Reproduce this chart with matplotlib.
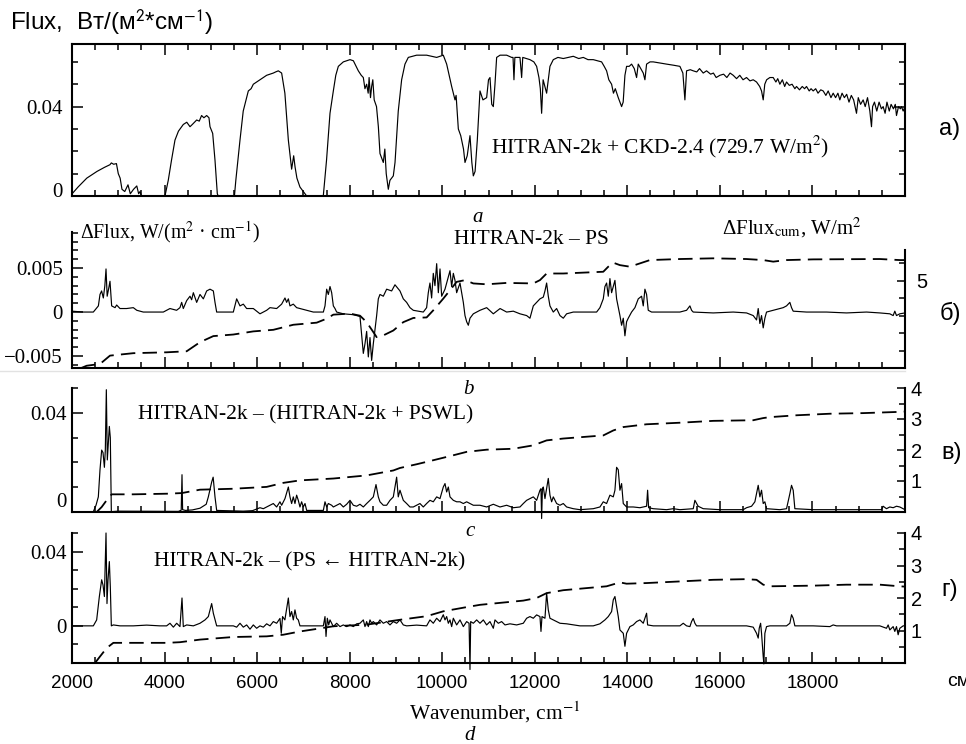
import matplotlib
matplotlib.use('Agg')
import matplotlib.pyplot as plt
import matplotlib.transforms as mtrans
from matplotlib.ticker import FixedLocator, MultipleLocator
from matplotlib.lines import Line2D

# ---------------- data ----------------
x_ticks = [2000, 4000, 6000, 8000, 10000, 12000, 14000, 16000, 18000]
x_tick_labels = ['2000', '4000', '6000', '8000', '10000', '12000', '14000', '16000', '18000']

# panel a: flux spectrum (wavenumber, flux)
flux_a = [
    (2000, 0.0008), (2015, 0.0013), (2130, 0.004), (2320, 0.008), (2540, 0.011), (2700, 0.0128),
    (2820, 0.014), (2850, 0.0148), (2900, 0.0142), (2960, 0.0145), (3000, 0.010), (3040, 0.008),
    (3080, 0.003), (3140, 0.002), (3210, 0.005), (3260, 0.001), (3330, 0.003), (3400, 0.0045),
    (3440, 0.001), (3470, 0.002), (3500, 0.0), (4009, 0.0), (4080, 0.007), (4150, 0.016),
    (4225, 0.025), (4300, 0.029), (4405, 0.032), (4480, 0.033), (4550, 0.031), (4600, 0.032),
    (4694, 0.034), (4750, 0.0335), (4800, 0.036), (4850, 0.035), (4910, 0.036), (4960, 0.035),
    (4982, 0.031), (5040, 0.028), (5090, 0.016), (5140, 0.001), (5160, 0.0), (5510, 0.0),
    (5540, 0.007), (5630, 0.025), (5700, 0.038), (5810, 0.047), (5870, 0.048), (5918, 0.050),
    (5990, 0.051), (6060, 0.052), (6130, 0.053), (6206, 0.054), (6280, 0.0545), (6350, 0.055),
    (6400, 0.0555), (6458, 0.056), (6530, 0.055), (6600, 0.046), (6675, 0.025), (6746, 0.012),
    (6790, 0.018), (6820, 0.013), (6860, 0.008), (6926, 0.004), (7000, 0.002), (7071, 0.0),
    (7430, 0.0), (7500, 0.016), (7575, 0.037), (7647, 0.047), (7700, 0.054), (7755, 0.058),
    (7863, 0.060), (8007, 0.061), (8080, 0.0605), (8187, 0.056), (8250, 0.054), (8295, 0.053),
    (8330, 0.048), (8367, 0.050), (8400, 0.046), (8420, 0.053), (8450, 0.044), (8475, 0.049),
    (8500, 0.052), (8530, 0.043), (8580, 0.040), (8620, 0.031), (8655, 0.019), (8690, 0.017),
    (8727, 0.015), (8760, 0.021), (8790, 0.010), (8835, 0.003), (8870, 0.007), (8943, 0.009),
    (8980, 0.015), (9050, 0.038), (9123, 0.052), (9195, 0.059), (9267, 0.062), (9447, 0.063),
    (9663, 0.063), (9880, 0.062), (10023, 0.063), (10096, 0.059), (10204, 0.049), (10276, 0.043),
    (10300, 0.045), (10348, 0.030), (10400, 0.027), (10420, 0.025), (10460, 0.021), (10492, 0.015),
    (10540, 0.018), (10600, 0.027), (10640, 0.015), (10672, 0.009), (10710, 0.011), (10758, 0.025),
    (10816, 0.047), (10880, 0.043), (10960, 0.044), (11000, 0.052), (11032, 0.053), (11070, 0.041),
    (11104, 0.040), (11140, 0.050), (11176, 0.062), (11250, 0.063), (11392, 0.063), (11500, 0.062),
    (11530, 0.062), (11550, 0.052), (11570, 0.062), (11680, 0.062), (11716, 0.053), (11740, 0.062),
    (11896, 0.061), (11980, 0.060), (12040, 0.058), (12090, 0.053), (12120, 0.048), (12148, 0.037),
    (12180, 0.052), (12256, 0.046), (12328, 0.058), (12400, 0.061), (12500, 0.062), (12616, 0.0615),
    (12720, 0.062), (12832, 0.0625), (12950, 0.0615), (13048, 0.062), (13150, 0.061), (13264, 0.061),
    (13350, 0.0605), (13444, 0.060), (13500, 0.058), (13552, 0.056), (13600, 0.052), (13660, 0.050),
    (13700, 0.046), (13740, 0.048), (13804, 0.044), (13876, 0.040), (13910, 0.042), (13948, 0.054),
    (13984, 0.058), (14040, 0.058), (14092, 0.059), (14150, 0.057), (14200, 0.053), (14236, 0.059),
    (14290, 0.057), (14344, 0.055), (14380, 0.052), (14416, 0.059), (14490, 0.060), (14560, 0.060),
    (14700, 0.0595), (14848, 0.059), (15000, 0.0585), (15136, 0.058), (15200, 0.055), (15244, 0.043),
    (15280, 0.056), (15360, 0.0565), (15424, 0.056), (15500, 0.0555), (15560, 0.057), (15640, 0.055),
    (15712, 0.056), (15800, 0.0545), (15860, 0.055), (15920, 0.053), (16000, 0.054), (16080, 0.0545),
    (16150, 0.053), (16220, 0.055), (16288, 0.054), (16360, 0.0525), (16430, 0.054), (16500, 0.052),
    (16576, 0.053), (16650, 0.0515), (16720, 0.052), (16792, 0.051), (16860, 0.049), (16900, 0.047),
    (16936, 0.043), (16970, 0.050), (17010, 0.052), (17080, 0.053), (17152, 0.053), (17210, 0.051),
    (17250, 0.0525), (17296, 0.050), (17350, 0.052), (17400, 0.049), (17440, 0.051), (17500, 0.0495),
    (17560, 0.050), (17620, 0.048), (17656, 0.049), (17720, 0.0475), (17780, 0.049), (17830, 0.048),
    (17872, 0.049), (17930, 0.047), (17970, 0.048), (18016, 0.047), (18070, 0.048), (18120, 0.046),
    (18180, 0.0475), (18232, 0.047), (18290, 0.045), (18340, 0.047), (18400, 0.044), (18448, 0.046),
    (18500, 0.044), (18550, 0.046), (18592, 0.043), (18640, 0.046), (18690, 0.044), (18740, 0.0455),
    (18790, 0.042), (18840, 0.045), (18890, 0.043), (18952, 0.037), (18990, 0.044), (19040, 0.041),
    (19096, 0.043), (19140, 0.040), (19190, 0.044), (19240, 0.038), (19276, 0.031), (19300, 0.040),
    (19340, 0.042), (19390, 0.038), (19440, 0.042), (19490, 0.039), (19528, 0.040), (19570, 0.037),
    (19610, 0.042), (19660, 0.038), (19700, 0.041), (19750, 0.039), (19790, 0.041), (19816, 0.036),
    (19860, 0.040), (19900, 0.039), (19924, 0.040), (19960, 0.038), (20000, 0.040),
]

# panel b: HITRAN-2k - PS difference (wavenumber, dFlux)
dflux_b = [
    (2000, 0.0001), (2245, 0.0), (2461, 0.0), (2570, 0.0007), (2605, 0.002), (2640, 0.0024),
    (2677, 0.0016), (2710, 0.003), (2735, 0.0049), (2760, 0.0018), (2790, 0.0026), (2821, 0.0035),
    (2857, 0.0007), (2930, 0.0005), (2965, 0.0008), (3037, 0.0004), (3180, 0.0004), (3325, 0.0005),
    (3400, 0.0002), (3541, 0.0), (3973, 0.0), (4117, 0.0004), (4260, 0.0002), (4333, 0.0005),
    (4370, 0.0011), (4405, 0.0004), (4478, 0.0013), (4550, 0.0018), (4585, 0.0014), (4622, 0.0022),
    (4694, 0.0011), (4766, 0.002), (4838, 0.0015), (4910, 0.0024), (4982, 0.0026), (5054, 0.0024),
    (5090, 0.0011), (5126, 0.0), (5486, 0.0), (5558, 0.0015), (5630, 0.0007), (5702, 0.0009),
    (5774, 0.0004), (5918, 0.0004), (6062, -0.0002), (6206, 0.0002), (6278, 0.0005), (6422, 0.0004),
    (6530, 0.0009), (6602, 0.0016), (6638, 0.0011), (6675, 0.0015), (6710, 0.0007), (6782, 0.0009),
    (6854, 0.0005), (6926, 0.0004), (7071, 0.0002), (7215, 0.0), (7431, 0.0), (7467, 0.0007),
    (7503, 0.0026), (7539, 0.002), (7575, 0.0029), (7611, 0.0022), (7647, 0.0007), (7683, 0.0004),
    (7719, 0.0), (7863, -0.0002), (8079, -0.0003), (8223, -0.0005), (8259, -0.0026), (8295, -0.0047),
    (8331, -0.0036), (8367, -0.0022), (8403, -0.0051), (8439, -0.0029), (8475, -0.0055), (8511, -0.0036),
    (8547, -0.002), (8583, -0.0004), (8619, 0.0015), (8655, 0.002), (8727, 0.0018), (8799, 0.0026),
    (8907, 0.0024), (8979, 0.0031), (9087, 0.0024), (9159, 0.0015), (9231, 0.0011), (9303, 0.0005),
    (9375, 0.0002), (9591, 0.0), (9663, 0.0005), (9699, 0.0022), (9735, 0.0033), (9771, 0.0016),
    (9807, 0.0044), (9843, 0.003), (9880, 0.0055), (9916, 0.0022), (9952, 0.0049), (9988, 0.0018),
    (10060, 0.0026), (10132, 0.004), (10168, 0.0047), (10204, 0.0029), (10240, 0.0044), (10276, 0.0036),
    (10312, 0.0022), (10384, 0.0033), (10456, 0.0011), (10492, -0.0004), (10528, -0.0011), (10564, -0.0015),
    (10600, -0.0007), (10672, -0.0002), (10816, 0.0002), (10960, 0.0005), (11104, -0.0002), (11250, 0.0004),
    (11392, 0.0), (11536, 0.0001), (11680, -0.0002), (11824, -0.0004), (11896, -0.0007), (11968, 0.0007),
    (12040, 0.0011), (12112, 0.0015), (12184, 0.0017), (12220, 0.0024), (12256, 0.0033), (12292, 0.0018),
    (12328, 0.0007), (12400, 0.0), (12472, 0.0004), (12544, -0.0004), (12616, -0.0007), (12688, -0.0002),
    (12832, 0.0), (13120, 0.0), (13336, 0.0), (13408, 0.0005), (13480, 0.0015), (13516, 0.0029),
    (13552, 0.0033), (13588, 0.0018), (13624, 0.0038), (13660, 0.0022), (13696, 0.0029), (13732, 0.0036),
    (13768, 0.0015), (13840, -0.0004), (13876, -0.0015), (13912, -0.0007), (13948, -0.0027), (13984, -0.0011),
    (14020, -0.0007), (14092, 0.0), (14164, 0.0005), (14236, 0.0015), (14308, 0.0018), (14344, 0.0007),
    (14380, 0.0026), (14416, 0.002), (14452, 0.0002), (14524, 0.0), (14848, 0.0), (15136, 0.0),
    (15280, 0.0002), (15352, 0.0007), (15388, 0.0002), (15424, 0.0), (15856, -0.0001), (16288, 0.0),
    (16576, -0.0001), (16720, -0.0004), (16792, -0.0009), (16828, 0.0004), (16864, -0.0013), (16900, -0.0004),
    (16936, -0.0018), (16972, -0.0007), (17008, 0.0), (17152, 0.0002), (17296, 0.0004), (17368, 0.0005),
    (17440, 0.0007), (17512, 0.0011), (17548, 0.0005), (17584, 0.0001), (17872, 0.0), (18304, 0.0),
    (18736, -0.0001), (19168, 0.0), (19456, -0.0001), (19672, -0.0002), (19744, -0.0004), (19780, 0.0001),
    (19816, -0.0004), (19888, -0.0002), (20000, -0.0001),
]
cum_b = [
    (2200, 0.0), (2317, 0.13), (2605, 0.23), (2821, 0.71), (3325, 0.85), (4045, 0.9), (4478, 0.96),
    (4766, 1.48), (5054, 1.83), (5486, 1.92), (5918, 2.1), (6350, 2.19), (6782, 2.48), (7287, 2.6),
    (7503, 2.83), (7647, 3.06), (8007, 3.12), (8223, 3.0), (8367, 2.63), (8511, 2.06), (8583, 1.77),
    (8727, 1.87), (8943, 2.15), (9159, 2.63), (9375, 2.87), (9663, 2.9), (9807, 3.31), (10023, 3.98),
    (10168, 4.46), (10312, 4.94), (10492, 5.04), (10672, 4.85), (10960, 4.8), (11392, 4.88),
    (11968, 4.85), (12112, 5.04), (12256, 5.42), (12616, 5.42), (13480, 5.52), (13588, 5.81),
    (13696, 6.04), (13840, 5.9), (14056, 5.81), (14272, 6.0), (14488, 6.19), (15136, 6.25),
    (15856, 6.29), (16576, 6.25), (16936, 6.19), (17152, 6.1), (17440, 6.19), (18016, 6.23),
    (19456, 6.25), (19888, 6.19), (20000, 6.19),
]

# panel c: HITRAN-2k - (HITRAN-2k + PSWL)
dflux_c = [
    (2000, 0.0), (2461, 0.0), (2519, 0.0026), (2569, 0.006), (2605, 0.017), (2641, 0.025),
    (2670, 0.024), (2700, 0.018), (2720, 0.025), (2742, 0.0495), (2763, 0.021), (2785, 0.028),
    (2807, 0.0346), (2828, 0.030), (2850, 0.0), (3000, 0.0002), (4300, 0.0001), (4360, 0.0006),
    (4377, 0.015), (4390, 0.0008), (4450, 0.0005), (4600, 0.0007), (4766, 0.0014), (4900, 0.003),
    (4946, 0.006), (5018, 0.012), (5050, 0.014), (5090, 0.006), (5126, 0.0005), (5700, 0.0002),
    (5900, 0.0004), (6062, 0.0016), (6134, 0.0012), (6206, 0.0019), (6278, 0.0026), (6350, 0.0033),
    (6422, 0.0019), (6494, 0.004), (6530, 0.0026), (6602, 0.0053), (6675, 0.010), (6710, 0.006),
    (6746, 0.0033), (6782, 0.006), (6818, 0.0033), (6854, 0.0067), (6890, 0.0046), (6926, 0.0019),
    (6962, 0.004), (6998, 0.0019), (7035, 0.0033), (7071, 0.0005), (7431, 0.0005), (7467, 0.004),
    (7503, 0.0019), (7539, 0.0033), (7611, 0.0026), (7647, 0.0019), (7719, 0.0026), (7791, 0.0033),
    (7863, 0.0019), (7935, 0.003), (8007, 0.0046), (8079, 0.0026), (8151, 0.0022), (8223, 0.003),
    (8295, 0.0019), (8367, 0.0033), (8439, 0.0046), (8511, 0.006), (8569, 0.011), (8619, 0.006),
    (8655, 0.004), (8727, 0.0026), (8799, 0.0026), (8871, 0.0046), (8943, 0.006), (9015, 0.014),
    (9050, 0.006), (9087, 0.0087), (9159, 0.0046), (9231, 0.0033), (9303, 0.0019), (9375, 0.0019),
    (9447, 0.0026), (9519, 0.0033), (9591, 0.0019), (9663, 0.0033), (9735, 0.0046), (9807, 0.004),
    (9880, 0.006), (9952, 0.0053), (10023, 0.010), (10060, 0.0114), (10096, 0.008), (10132, 0.010),
    (10168, 0.006), (10240, 0.0046), (10312, 0.004), (10384, 0.004), (10456, 0.0033), (10528, 0.004),
    (10672, 0.0026), (10816, 0.0026), (10960, 0.0019), (11104, 0.003), (11248, 0.0019), (11392, 0.0026),
    (11536, 0.0016), (11680, 0.0019), (11752, 0.0033), (11824, 0.0046), (11896, 0.0053), (11968, 0.006),
    (12040, 0.0046), (12112, 0.0087), (12134, 0.0093), (12148, -0.0028), (12165, 0.0093), (12184, 0.010),
    (12220, 0.0053), (12292, 0.0135), (12328, 0.0067), (12364, 0.004), (12400, 0.006), (12472, 0.0033),
    (12544, 0.0026), (12616, 0.0033), (12688, 0.0019), (12832, 0.0012), (12976, 0.0008), (13264, 0.0012),
    (13408, 0.0019), (13480, 0.004), (13552, 0.0033), (13624, 0.0067), (13696, 0.006), (13732, 0.0087),
    (13768, 0.018), (13804, 0.017), (13840, 0.0087), (13876, 0.0114), (13912, 0.0033), (13984, 0.0019),
    (14128, 0.0019), (14272, 0.0016), (14416, 0.0022), (14438, 0.0087), (14460, 0.0016), (14560, 0.0012),
    (14848, 0.0008), (14992, 0.0012), (15136, 0.0008), (15424, 0.0012), (15460, 0.0046), (15530, 0.0022),
    (15640, 0.0012), (16000, 0.0008), (16504, 0.0008), (16576, 0.0016), (16684, 0.0022), (16756, 0.004),
    (16828, 0.0107), (16864, 0.006), (16900, 0.0087), (16936, 0.0033), (16972, 0.004), (17008, 0.0012),
    (17296, 0.0008), (17440, 0.0012), (17512, 0.0073), (17548, 0.0107), (17584, 0.0087), (17620, 0.0012),
    (18016, 0.0008), (19492, 0.0008), (19528, 0.0022), (19600, 0.0012), (19672, 0.0019), (19744, 0.0016),
    (19816, 0.0022), (19888, 0.0019), (20000, 0.0008),
]
cum_c = [
    (2533, 0.0), (2641, 0.16), (2749, 0.38), (2857, 0.57), (3325, 0.57), (4045, 0.59), (4370, 0.61),
    (4766, 0.72), (5486, 0.75), (6206, 0.81), (6566, 0.94), (6926, 1.02), (7647, 1.08), (8367, 1.18),
    (8943, 1.34), (9087, 1.42), (9447, 1.54), (9807, 1.67), (10240, 1.83), (10528, 1.94), (10960, 2.01),
    (11536, 2.04), (11968, 2.15), (12256, 2.31), (12616, 2.37), (13480, 2.47), (13696, 2.63),
    (13912, 2.74), (14416, 2.83), (15136, 2.88), (15856, 2.94), (16720, 2.96), (16936, 3.03),
    (17080, 3.06), (17656, 3.12), (18376, 3.17), (19096, 3.19), (19888, 3.23), (20000, 3.24),
]

# panel d: HITRAN-2k - (PS <- HITRAN-2k)
dflux_d = [
    (2000, 0.0), (2461, 0.0), (2533, 0.0032), (2591, 0.0158), (2641, 0.0248), (2670, 0.022),
    (2700, 0.0158), (2735, 0.050), (2756, 0.012), (2778, 0.0248), (2807, 0.0346), (2828, 0.021),
    (2850, 0.0), (2893, 0.0005), (3037, 0.0), (3325, 0.0), (3613, 0.0004), (3901, 0.0), (4045, 0.0),
    (4117, 0.0014), (4190, -0.0007), (4262, 0.0014), (4333, -0.0004), (4377, 0.015), (4405, -0.0004),
    (4478, 0.0005), (4622, 0.0), (4766, 0.0014), (4874, 0.0032), (4946, 0.005), (5018, 0.012),
    (5054, 0.0068), (5126, 0.0), (5486, 0.0), (5558, -0.0007), (5630, 0.0014), (5702, -0.0007),
    (5774, 0.0005), (5846, -0.0018), (5918, 0.0005), (5990, -0.0013), (6062, 0.0), (6134, -0.0007),
    (6206, 0.0011), (6278, 0.0), (6350, 0.0023), (6422, 0.0014), (6494, 0.004), (6510, -0.0004),
    (6522, -0.004), (6550, 0.005), (6600, 0.0032), (6675, 0.015), (6710, 0.005), (6746, 0.0077),
    (6782, 0.0032), (6818, 0.0086), (6854, 0.0041), (6890, 0.0032), (6926, 0.0), (7431, 0.0),
    (7467, 0.005), (7489, -0.0057), (7517, 0.0041), (7547, 0.0005), (7575, 0.0032), (7647, -0.0004),
    (7719, 0.0014), (7791, -0.0004), (7863, 0.0005), (7935, -0.0004), (8007, 0.0005), (8079, -0.0004),
    (8151, 0.0011), (8223, 0.0014), (8295, 0.0032), (8331, -0.0004), (8367, 0.0023), (8403, -0.0004),
    (8439, 0.0032), (8475, 0.0014), (8511, 0.0023), (8583, 0.0005), (8655, 0.0032), (8727, 0.0014),
    (8799, 0.0023), (8871, 0.0005), (8943, 0.0023), (9015, 0.0014), (9087, 0.0032), (9159, 0.0005),
    (9231, 0.0), (9447, 0.0004), (9663, 0.0), (9735, 0.0032), (9807, 0.0014), (9880, 0.0041),
    (9952, 0.0023), (10023, 0.006), (10060, 0.0032), (10096, 0.005), (10132, 0.0014), (10168, 0.0032),
    (10204, -0.0004), (10240, 0.0041), (10312, 0.0005), (10384, 0.0032), (10456, -0.0004), (10528, 0.0023),
    (10580, 0.0014), (10600, -0.0235), (10615, 0.0023), (10672, 0.0014), (10744, 0.0032), (10816, 0.0014),
    (10888, 0.0032), (10960, 0.0005), (11032, 0.0023), (11104, -0.0013), (11140, 0.0032), (11212, 0.0014),
    (11284, 0.0023), (11356, 0.0005), (11464, 0.0011), (11608, 0.0005), (11752, 0.0014), (11824, 0.0041),
    (11896, 0.005), (11968, 0.0041), (12040, 0.0059), (12112, 0.005), (12134, -0.003), (12156, 0.005),
    (12220, 0.0041), (12256, 0.0176), (12292, 0.0086), (12328, 0.0041), (12400, 0.0032), (12544, 0.0014),
    (12688, 0.0011), (12976, 0.0), (13264, 0.0), (13408, 0.0011), (13516, 0.0032), (13588, 0.005),
    (13660, 0.0077), (13696, 0.014), (13732, 0.0158), (13768, 0.0104), (13804, 0.005), (13840, -0.0022),
    (13912, -0.004), (13948, -0.011), (13984, -0.004), (14056, -0.0004), (14128, 0.0005), (14200, 0.0023),
    (14272, 0.0032), (14344, 0.0014), (14416, 0.0068), (14438, 0.0005), (14560, 0.0), (15136, 0.0),
    (15208, 0.0014), (15280, 0.0), (15352, -0.0004), (15388, 0.0023), (15424, 0.004), (15460, 0.0014),
    (15496, 0.0), (16576, 0.0), (16720, -0.0007), (16792, -0.004), (16828, -0.0066), (16850, -0.0013),
    (16880, 0.0014), (16900, -0.004), (16936, -0.0165), (16950, -0.0205), (16972, -0.004), (17008, -0.0004),
    (17080, 0.0), (17440, 0.0), (17512, 0.0014), (17548, 0.006), (17584, 0.0041), (17620, 0.0),
    (18016, 0.0), (18376, -0.0004), (18448, 0.0005), (18520, 0.0), (19456, 0.0), (19600, -0.0013),
    (19636, 0.0005), (19672, -0.0022), (19744, -0.0004), (19780, -0.003), (19816, -0.0004), (19852, -0.0048),
    (19888, -0.0013), (19960, 0.0), (20000, 0.0),
]
cum_d = [
    (2497, 0.0), (2605, 0.2), (2749, 0.46), (2893, 0.62), (3325, 0.62), (4045, 0.62), (4333, 0.64),
    (4766, 0.72), (5486, 0.8), (6206, 0.82), (6566, 0.87), (6926, 0.97), (7431, 1.08), (7647, 1.13),
    (8367, 1.18), (9087, 1.33), (9663, 1.44), (10023, 1.59), (10528, 1.72), (10816, 1.79), (11248, 1.85),
    (11752, 1.92), (12040, 2.0), (12256, 2.15), (12616, 2.24), (13552, 2.36), (13840, 2.48),
    (13984, 2.44), (14416, 2.46), (15136, 2.51), (15856, 2.56), (16576, 2.58), (16792, 2.56),
    (16936, 2.41), (17080, 2.36), (18016, 2.38), (18736, 2.41), (19456, 2.41), (19888, 2.36), (20000, 2.35),
]


def unzip(pts):
    return [p[0] for p in pts], [p[1] for p in pts]


# ---------------- style ----------------
plt.rcParams['font.family'] = ['Liberation Serif', 'DejaVu Serif']
plt.rcParams['mathtext.fontset'] = 'stix'
SANS = ['Liberation Sans', 'DejaVu Sans']

W, H = 966, 744
fig = plt.figure(figsize=(W / 100, H / 100), dpi=100)
fig.patch.set_facecolor('white')


def rect(x0, y0, x1, y1):
    return [x0 / W, 1 - y1 / H, (x1 - x0) / W, (y1 - y0) / H]


def ftext(x, y, s, **kw):
    kw.setdefault('ha', 'center')
    kw.setdefault('va', 'center')
    fig.text(x / W, 1 - y / H, s, **kw)


SPW = 1.5
LW = 0.85
DASH = (0, (8, 4))
DLW = 1.3
MAJ, MIN = 8, 4.5


def style_x(ax, labels=False, top=False):
    ax.set_xlim(2000, 20000)
    ax.set_xticks(x_ticks)
    if labels:
        ax.set_xticklabels(x_tick_labels, fontfamily=SANS, fontsize=13.5)
    ax.xaxis.set_minor_locator(MultipleLocator(500))
    ax.tick_params(axis='x', which='both', direction='in', top=top, bottom=True,
                   labelbottom=labels, width=1.1, pad=9)
    ax.tick_params(axis='x', which='major', length=MAJ)
    ax.tick_params(axis='x', which='minor', length=MIN)
    for s in ax.spines.values():
        s.set_linewidth(SPW)


def style_left(ax, major, labels, minor, pad):
    ax.set_yticks(major)
    ax.set_yticklabels(labels, fontsize=15)
    ax.yaxis.set_minor_locator(FixedLocator(minor))
    ax.tick_params(axis='y', which='both', direction='in', width=1.1, pad=pad)
    ax.tick_params(axis='y', which='major', length=MAJ)
    ax.tick_params(axis='y', which='minor', length=MIN)


def make_twin(ax, ylim, major, labels, minor, pad):
    tw = ax.twinx()
    tw.set_ylim(*ylim)
    tw.set_yticks(major)
    tw.set_yticklabels(labels, fontfamily=SANS, fontsize=14.5)
    tw.yaxis.set_minor_locator(FixedLocator(minor))
    tw.tick_params(axis='y', which='both', direction='in', width=1.1, pad=pad)
    tw.tick_params(axis='y', which='major', length=MIN + 1)
    tw.tick_params(axis='y', which='minor', length=MIN)
    tw.tick_params(axis='x', which='both', bottom=False, top=False, labelbottom=False)
    for k in ('top', 'left', 'bottom'):
        tw.spines[k].set_visible(False)
    tw.spines['right'].set_linewidth(SPW)
    return tw


def shift_label(ax, idx, dy_px):
    lbl = ax.get_yticklabels()[idx]
    lbl.set_transform(lbl.get_transform() +
                      mtrans.ScaledTranslation(0, dy_px / 100, fig.dpi_scale_trans))


# ---------------- panel a ----------------
ax_a = fig.add_axes(rect(72, 44, 905, 196))
x, y = unzip(flux_a)
ax_a.plot(x, y, color='black', lw=LW)
ax_a.set_ylim(0, 0.068)
style_x(ax_a, labels=False, top=True)
style_left(ax_a, [0, 0.04], ['0', '0.04'], [0.01, 0.02, 0.03, 0.05, 0.06], 6.5)
ax_a.tick_params(axis='y', which='both', right=True, labelright=False)
shift_label(ax_a, 0, 6)

# ---------------- panel b ----------------
ax_b = fig.add_axes(rect(72, 232, 905, 368))
x, y = unzip(dflux_b)
ax_b.plot(x, y, color='black', lw=LW)
ax_b.set_ylim(-0.00636, 0.0091)
style_x(ax_b)
style_left(ax_b, [-0.005, 0, 0.005], ['\u22120.005', '0', '0.005'],
           [-0.006, -0.004, -0.003, -0.002, -0.001, 0.001, 0.002, 0.003, 0.004,
            0.006, 0.007, 0.008, 0.009], 6.5)
ax_b.spines['top'].set_visible(False)
ax_b.spines['right'].set_visible(False)
tw_b = make_twin(ax_b, (0, 7.8), [5], ['5'], [0, 1, 2, 3, 4, 6], 8)
tw_b.spines['right'].set_bounds(0, 6.77)
x, y = unzip(cum_b)
tw_b.plot(x, y, color='black', lw=DLW, ls=DASH)

# ---------------- panel c ----------------
ax_c = fig.add_axes(rect(72, 388, 905, 512))
x, y = unzip(dflux_c)
ax_c.plot(x, y, color='black', lw=LW, clip_on=False)
ax_c.set_ylim(-0.00014, 0.0502)
style_x(ax_c)
style_left(ax_c, [0, 0.04], ['0', '0.04'], [0.01, 0.02, 0.03, 0.05], 3.8)
ax_c.spines['top'].set_visible(False)
ax_c.spines['right'].set_visible(False)
tw_c = make_twin(ax_c, (0, 4), [1, 2, 3, 4], ['1', '2', '3', '4'], [0.5, 1.5, 2.5, 3.5], 4)
x, y = unzip(cum_c)
tw_c.plot(x, y, color='black', lw=DLW, ls=DASH)
shift_label(ax_c, 0, 12)

# ---------------- panel d ----------------
ax_d = fig.add_axes(rect(72, 533, 905, 663))
x, y = unzip(dflux_d)
ax_d.plot(x, y, color='black', lw=LW, clip_on=False)
ax_d.set_ylim(-0.02, 0.05)
style_x(ax_d, labels=True)
style_left(ax_d, [0, 0.04], ['0', '0.04'], [-0.02, -0.01, 0.01, 0.02, 0.03, 0.05], 3.8)
ax_d.spines['top'].set_visible(False)
ax_d.spines['right'].set_visible(False)
tw_d = make_twin(ax_d, (0, 4), [1, 2, 3, 4], ['1', '2', '3', '4'], [0.5, 1.5, 2.5, 3.5], 4)
x, y = unzip(cum_d)
tw_d.plot(x, y, color='black', lw=DLW, ls=DASH)

# faint separator line seen in the reference
fig.add_artist(Line2D([0, 905 / W], [1 - 370.5 / H] * 2, color='#e2e2e2', lw=1.0))

# ---------------- texts ----------------
ftext(10, 22, 'Flux,  Вт/(м$^{\\mathsf{2}}$*см$^{\\mathsf{-1}}$)', family=SANS, fontsize=17.5, ha='left')
ftext(950, 129, 'а)', family=SANS, fontsize=17)
ftext(660, 147, 'HITRAN-2k + CKD-2.4 (729.7 W/m$^{2}$)', fontsize=15.5)
ftext(478, 217, 'a', style='italic', fontsize=15)
ftext(80, 232, '\u0394Flux, W/(m$^{2}$ \u00b7 cm$^{-1}$)', fontsize=14.3, ha='left')
ftext(531, 240, 'HITRAN-2k \u2013 PS', fontsize=15.5)
ftext(722, 228, '\u0394Flux$_{\\mathrm{cum}}$, W/m$^{2}$', fontsize=15, ha='left')
ftext(950, 313, 'б)', family=SANS, fontsize=17)
ftext(468, 390, 'b', style='italic', fontsize=15)
ftext(306, 415, 'HITRAN-2k \u2013 (HITRAN-2k + PSWL)', fontsize=15.5)
ftext(952, 453, 'в)', family=SANS, fontsize=17)
ftext(470, 531, 'c', style='italic', fontsize=15)
ftext(310, 562, 'HITRAN-2k \u2013 (PS \u2190 HITRAN-2k)', fontsize=15.5)
ftext(950, 590, 'г)', family=SANS, fontsize=17)
ftext(495, 712, 'Wavenumber, cm$^{-1}$', fontsize=15.5)
ftext(470, 736, 'd', style='italic', fontsize=15)
ftext(947, 682, 'см⁻¹', family=SANS, fontsize=14, ha='left')

fig.savefig('out.png', dpi=100, facecolor='white')
